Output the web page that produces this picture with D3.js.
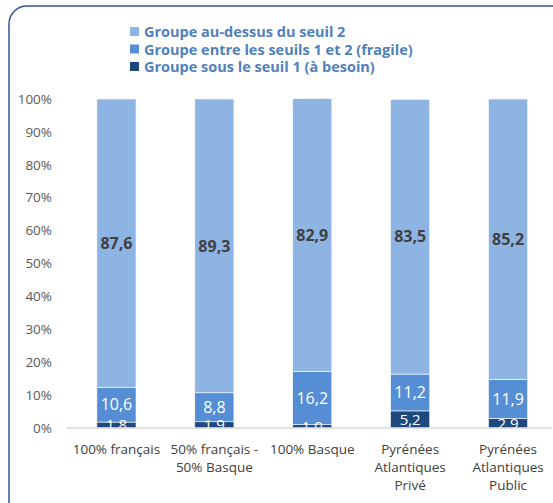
<!DOCTYPE html>
<html lang="fr">
<head>
<meta charset="utf-8">
<title>Groupes par seuil</title>
<style>
  body { margin:0; background:#fff; }
  svg { display:block; }
  text { font-family: "Open Sans", sans-serif; }
</style>
</head>
<body>
<script src="https://d3js.org/d3.v7.min.js"></script>
<script>
const categories = [
  ["100% français"],
  ["50% français -", "50% Basque"],
  ["100% Basque"],
  ["Pyrénées", "Atlantiques", "Privé"],
  ["Pyrénées", "Atlantiques", "Public"]
];
const sousSeuil1 = [1.8, 1.9, 1.0, 5.2, 2.9];
const entreSeuils = [10.6, 8.8, 16.2, 11.2, 11.9];
const auDessus = [87.6, 89.3, 82.9, 83.5, 85.2];
const seriesNames = [
  "Groupe sous le seuil 1 (à besoin)",
  "Groupe entre les seuils 1 et 2 (fragile)",
  "Groupe au-dessus du seuil 2"
];
const yTicks = [0, 10, 20, 30, 40, 50, 60, 70, 80, 90, 100];

const width = 553, height = 503;
const colors = ["#1f497d", "#558ed5", "#8eb4e3"];

const svg = d3.select("body").append("svg")
  .attr("width", width).attr("height", height);

// chart border
svg.append("rect")
  .attr("x", 9).attr("y", 6).attr("width", 560).attr("height", 520)
  .attr("rx", 18).attr("fill", "none")
  .attr("stroke", "#2f5597").attr("stroke-width", 1.5);

const rows = categories.map((c, i) => ({
  key: i, cat: c,
  s0: sousSeuil1[i], s1: entreSeuils[i], s2: auDessus[i]
}));

const x = d3.scaleBand()
  .domain(rows.map(d => d.key))
  .range([67.5, 557])
  .paddingInner(0.6).paddingOuter(0.3);

const y = d3.scaleLinear().domain([0, 100]).range([428, 99]);

const stacked = d3.stack().keys(["s0", "s1", "s2"])(rows);

// labels are cut at the plot bottom, as in the original
svg.append("clipPath").attr("id", "plot")
  .append("rect").attr("x", 60).attr("y", 90)
  .attr("width", 500).attr("height", y(0) - 90);

// y axis labels
svg.append("g")
  .selectAll("text")
  .data(yTicks)
  .join("text")
    .attr("x", 52)
    .attr("y", d => y(d))
    .attr("dy", "0.35em")
    .attr("text-anchor", "end")
    .attr("fill", "#595959")
    .style("font-size", "13.5px")
    .text(d => d + "%");

// bars
const layers = svg.append("g")
  .selectAll("g")
  .data(stacked)
  .join("g")
    .attr("fill", (d, i) => colors[i]);

layers.selectAll("rect")
  .data(d => d)
  .join("rect")
    .attr("x", d => x(d.data.key))
    .attr("y", d => y(d[1]))
    .attr("width", x.bandwidth())
    .attr("height", d => y(d[0]) - y(d[1]))
    .attr("stroke", "#fff")
    .attr("stroke-width", 0.6);

// data labels
const fmt = v => v.toFixed(1).replace(".", ",");
stacked.forEach((layer, li) => {
  svg.append("g")
    .attr("clip-path", "url(#plot)")
    .selectAll("text")
    .data(layer)
    .join("text")
      .attr("x", d => x(d.data.key) + x.bandwidth() / 2)
      .attr("y", d => (y(d[0]) + y(d[1])) / 2)
      .attr("dy", "0.36em")
      .attr("text-anchor", "middle")
      .attr("fill", li === 2 ? "#404040" : "#fff")
      .style("font-size", li === 0 ? "15px" : "16px")
      .style("font-weight", li === 2 ? "bold" : "normal")
      .text(d => fmt(d.data[layer.key]));
});

// baseline
svg.append("line")
  .attr("x1", 67).attr("x2", 552)
  .attr("y1", y(0)).attr("y2", y(0))
  .attr("stroke", "#d9d9d9").attr("stroke-width", 1.5);

// category labels
const cats = svg.append("g")
  .selectAll("text")
  .data(rows)
  .join("text")
    .attr("y", 454)
    .attr("text-anchor", "middle")
    .attr("fill", "#404040")
    .style("font-size", "13.5px");
cats.selectAll("tspan")
  .data(d => d.cat.map(t => ({ t, cx: x(d.key) + x.bandwidth() / 2 })))
  .join("tspan")
    .attr("x", d => d.cx)
    .attr("dy", (d, i) => i === 0 ? 0 : 18)
    .text(d => d.t);

// legend
const legendOrder = [2, 1, 0];
const legend = svg.append("g").attr("transform", "translate(130,32)");
legend.selectAll("rect")
  .data(legendOrder)
  .join("rect")
    .attr("x", 0)
    .attr("y", (d, i) => i * 17.5 - 5)
    .attr("width", 9).attr("height", 9)
    .attr("fill", d => colors[d]);
legend.selectAll("text")
  .data(legendOrder)
  .join("text")
    .attr("x", 14)
    .attr("y", (d, i) => i * 17.5)
    .attr("dy", "0.35em")
    .attr("fill", "#4f81bd")
    .style("font-size", "14.5px")
    .style("font-weight", "bold")
    .text(d => seriesNames[d]);
</script>
</body>
</html>
